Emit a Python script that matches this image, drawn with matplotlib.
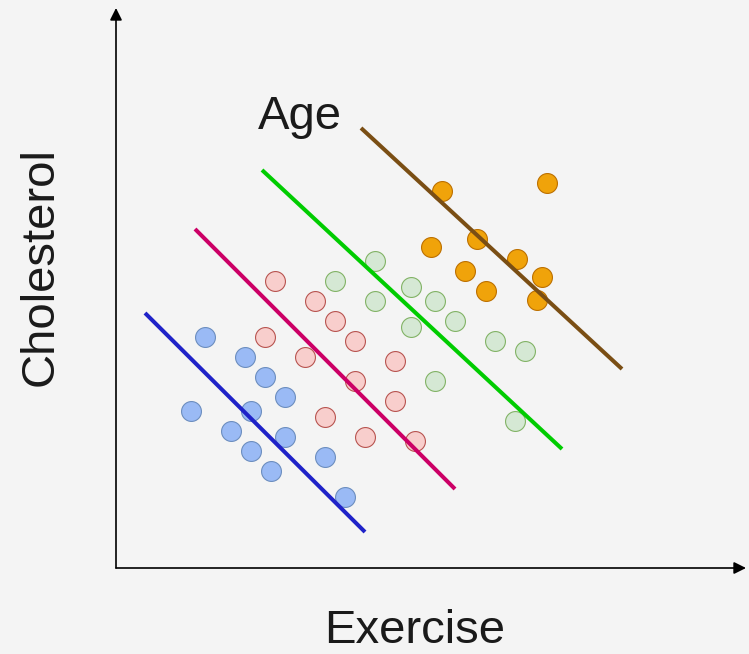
import matplotlib
matplotlib.use("Agg")
import matplotlib.pyplot as plt

# Data (axis origin at lower-left corner of the axes arrows)
blue_x = [89, 129, 149, 169, 75, 135, 115, 169, 135, 155, 209, 229]
blue_y = [231, 211, 191, 171, 157, 157, 137, 131, 117, 97, 111, 71]

red_x = [159, 199, 219, 239, 149, 189, 239, 279, 279, 209, 249, 299]
red_y = [287, 267, 247, 227, 231, 211, 187, 207, 167, 151, 131, 127]

green_x = [259, 219, 295, 259, 319, 295, 339, 379, 409, 319, 399]
green_y = [307, 287, 281, 267, 267, 241, 247, 227, 217, 187, 147]

orange_x = [326, 431, 361, 315, 401, 349, 426, 370, 421]
orange_y = [377, 385, 329, 321, 309, 297, 291, 277, 268]

# Trend lines (start/end)
blue_line_x, blue_line_y = [29, 249], [255, 36]
magenta_line_x, magenta_line_y = [79, 339], [339, 79]
green_line_x, green_line_y = [146, 446], [398, 119]
brown_line_x, brown_line_y = [245, 506], [440, 199]

x_label = "Exercise"
y_label = "Cholesterol"
group_label = "Age"

bg = "#f4f4f4"
fig = plt.figure(figsize=(7.49, 6.54), dpi=100, facecolor=bg)
ax = fig.add_axes([0, 0, 1, 1])
ax.set_facecolor(bg)
ax.set_xlim(-116, 749 - 116)
ax.set_ylim(568 - 654, 568)
ax.axis("off")

s = 205
ax.scatter(blue_x, blue_y, s=s, c="#9abaf5", edgecolors="#6c8ebf", linewidths=0.8, zorder=2)
ax.scatter(red_x, red_y, s=s, c="#f8cecc", edgecolors="#b85450", linewidths=0.8, zorder=2)
ax.scatter(green_x, green_y, s=s, c="#d5e8d4", edgecolors="#82b366", linewidths=0.8, zorder=2)
ax.scatter(orange_x, orange_y, s=s, c="#f0a30a", edgecolors="#bd7000", linewidths=0.8, zorder=2)

lw = 2.9
ax.plot(blue_line_x, blue_line_y, color="#1f22c8", lw=lw, zorder=3, solid_capstyle="butt")
ax.plot(magenta_line_x, magenta_line_y, color="#cc0066", lw=lw, zorder=3, solid_capstyle="butt")
ax.plot(green_line_x, green_line_y, color="#00cc00", lw=lw, zorder=3, solid_capstyle="butt")
ax.plot(brown_line_x, brown_line_y, color="#7a4e14", lw=lw, zorder=3, solid_capstyle="butt")

# Axes arrows
arrow = dict(arrowstyle="-|>", color="black", lw=1.2, mutation_scale=18, shrinkA=0, shrinkB=0)
ax.annotate("", xy=(0, 560), xytext=(0, 0), arrowprops=arrow)
ax.annotate("", xy=(630, 0), xytext=(0, 0), arrowprops=arrow)

font = dict(family=["Liberation Sans", "DejaVu Sans"], fontsize=34, color="#1a1a1a")
ax.text(299, -63, x_label, ha="center", va="center", **font)
ax.text(-75, 301, y_label, ha="center", va="center", rotation=90, **font)
ax.text(184, 451, group_label, ha="center", va="center", **font)

fig.savefig("out.png", dpi=100, facecolor=bg)
